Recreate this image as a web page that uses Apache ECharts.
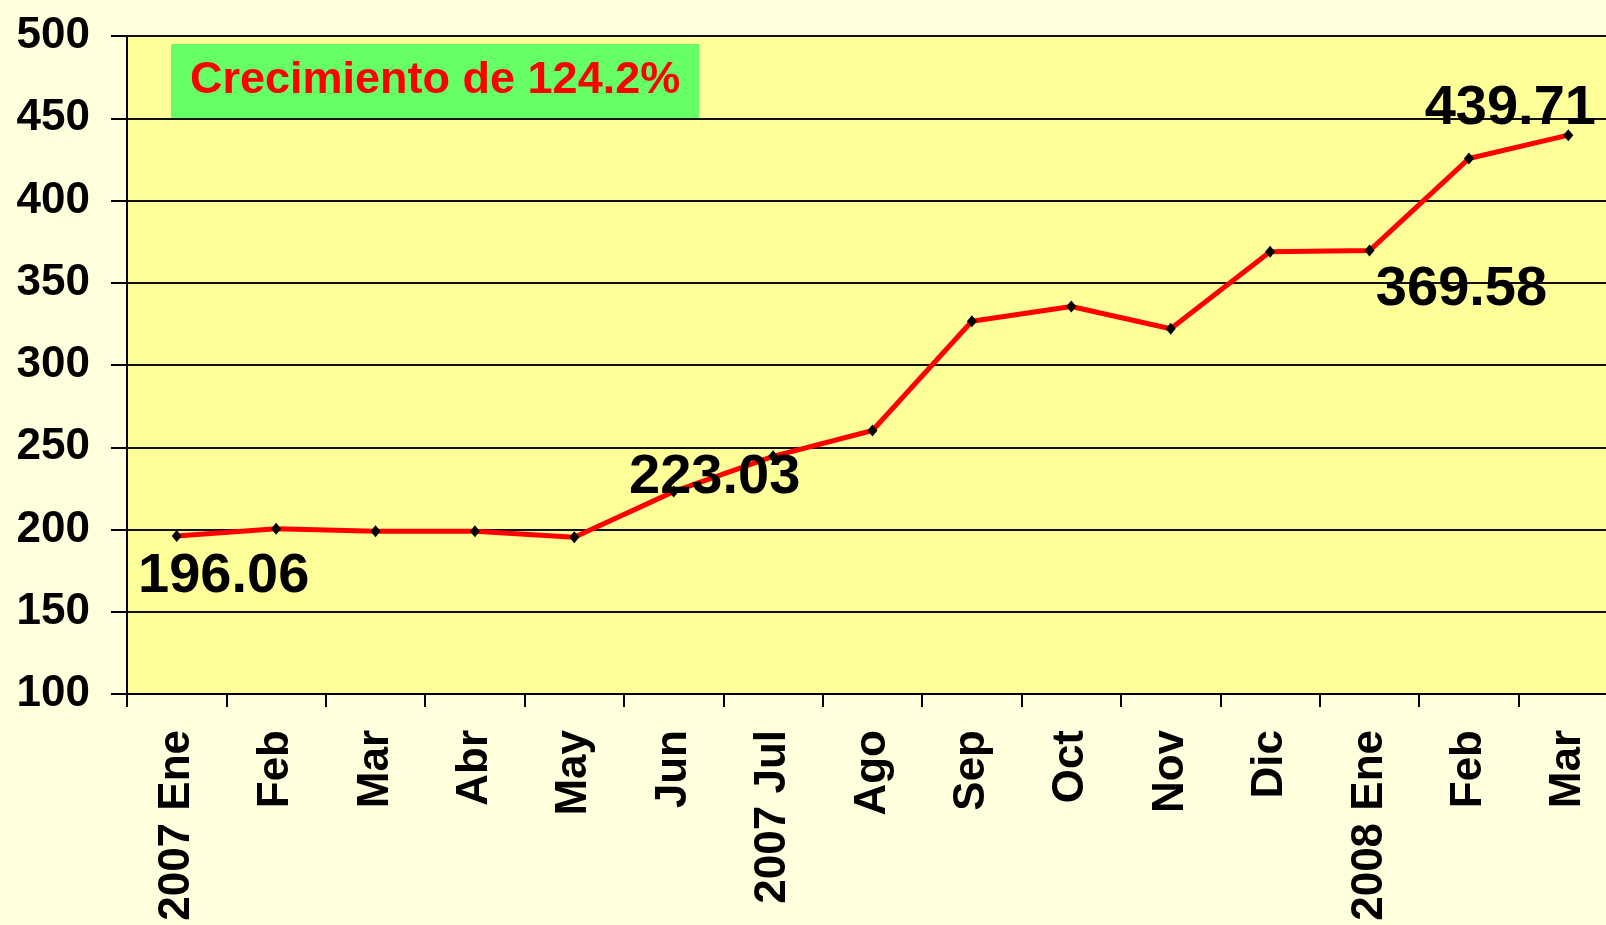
<!DOCTYPE html>
<html>
<head>
<meta charset="utf-8">
<script src="https://cdn.jsdelivr.net/npm/echarts@6/dist/echarts.min.js"></script>
<style>
  html, body { margin: 0; padding: 0; background: #FFFFDD; overflow: hidden; }
  #chart { width: 1620px; height: 925px; }
</style>
</head>
<body>
<div id="chart"></div>
<script>
// meses
var categories = ['2007 Ene', 'Feb', 'Mar', 'Abr', 'May', 'Jun', '2007 Jul', 'Ago', 'Sep', 'Oct', 'Nov', 'Dic', '2008 Ene', 'Feb', 'Mar'];
// valores del indice
var values = [196.06, 200.4, 199.0, 199.0, 195.3, 223.03, 244.5, 260.2, 326.6, 335.6, 322.0, 368.8, 369.58, 425.5, 439.71];
// puntos con etiqueta
var labeled = [0, 5, 12, 14];
var annotation = 'Crecimiento de 124.2%';

var font = 'Liberation Sans, Arial, sans-serif';

// etiquetas de datos
var labelCfg = {
  0: { position: 'bottom', offset: [47, 2] },
  5: { position: 'top', offset: [41, 25] },
  12: { position: 'bottom', offset: [92, 0] },
  14: { position: 'top', offset: [-58, 12] }
};

var seriesData = values.map(function (v, i) {
  var item = { value: v };
  if (labeled.indexOf(i) >= 0) {
    item.label = {
      show: true,
      position: labelCfg[i].position,
      offset: labelCfg[i].offset,
      formatter: function (p) { return p.value.toFixed(2); },
      color: '#000',
      fontSize: 56,
      fontWeight: 'bold',
      fontFamily: font
    };
  }
  return item;
});

var myChart = echarts.init(document.getElementById('chart'));
var option = {
  backgroundColor: '#FFFFDD',
  animation: false,
  title: {
    text: annotation,
    left: 171,
    top: 44,
    backgroundColor: '#66FF66',
    padding: [12, 19, 12, 19],
    textStyle: {
      color: '#FF0000',
      fontSize: 45,
      fontWeight: 'bold',
      fontFamily: font,
      lineHeight: 50
    }
  },
  grid: {
    left: 127,
    top: 36,
    width: 1491,
    bottom: 231,
    show: true,
    backgroundColor: '#FFFF99',
    borderWidth: 0
  },
  xAxis: {
    type: 'category',
    data: categories,
    boundaryGap: true,
    axisLine: { lineStyle: { color: '#000', width: 2 } },
    axisTick: { show: true, length: 13, lineStyle: { color: '#000', width: 2 } },
    axisLabel: {
      rotate: 90,
      interval: 0,
      margin: 36,
      color: '#000',
      fontSize: 44,
      fontWeight: 'bold',
      fontFamily: font
    }
  },
  yAxis: {
    type: 'value',
    min: 100,
    max: 500,
    interval: 50,
    axisLine: { show: true, lineStyle: { color: '#000', width: 2 } },
    axisTick: { show: true, length: 16, lineStyle: { color: '#000', width: 2 } },
    axisLabel: {
      margin: 37,
      color: '#000',
      fontSize: 44,
      fontWeight: 'bold',
      fontFamily: font
    },
    splitLine: { show: true, lineStyle: { color: '#111', width: 2 } }
  },
  series: [
    {
      type: 'line',
      data: seriesData,
      symbol: 'diamond',
      symbolSize: [10, 12],
      itemStyle: { color: '#000' },
      lineStyle: { color: '#FF0000', width: 5 },
      z: 3
    }
  ]
};
myChart.setOption(option);
window.addEventListener('resize', function () {
  myChart.resize();
});
</script>
</body>
</html>
